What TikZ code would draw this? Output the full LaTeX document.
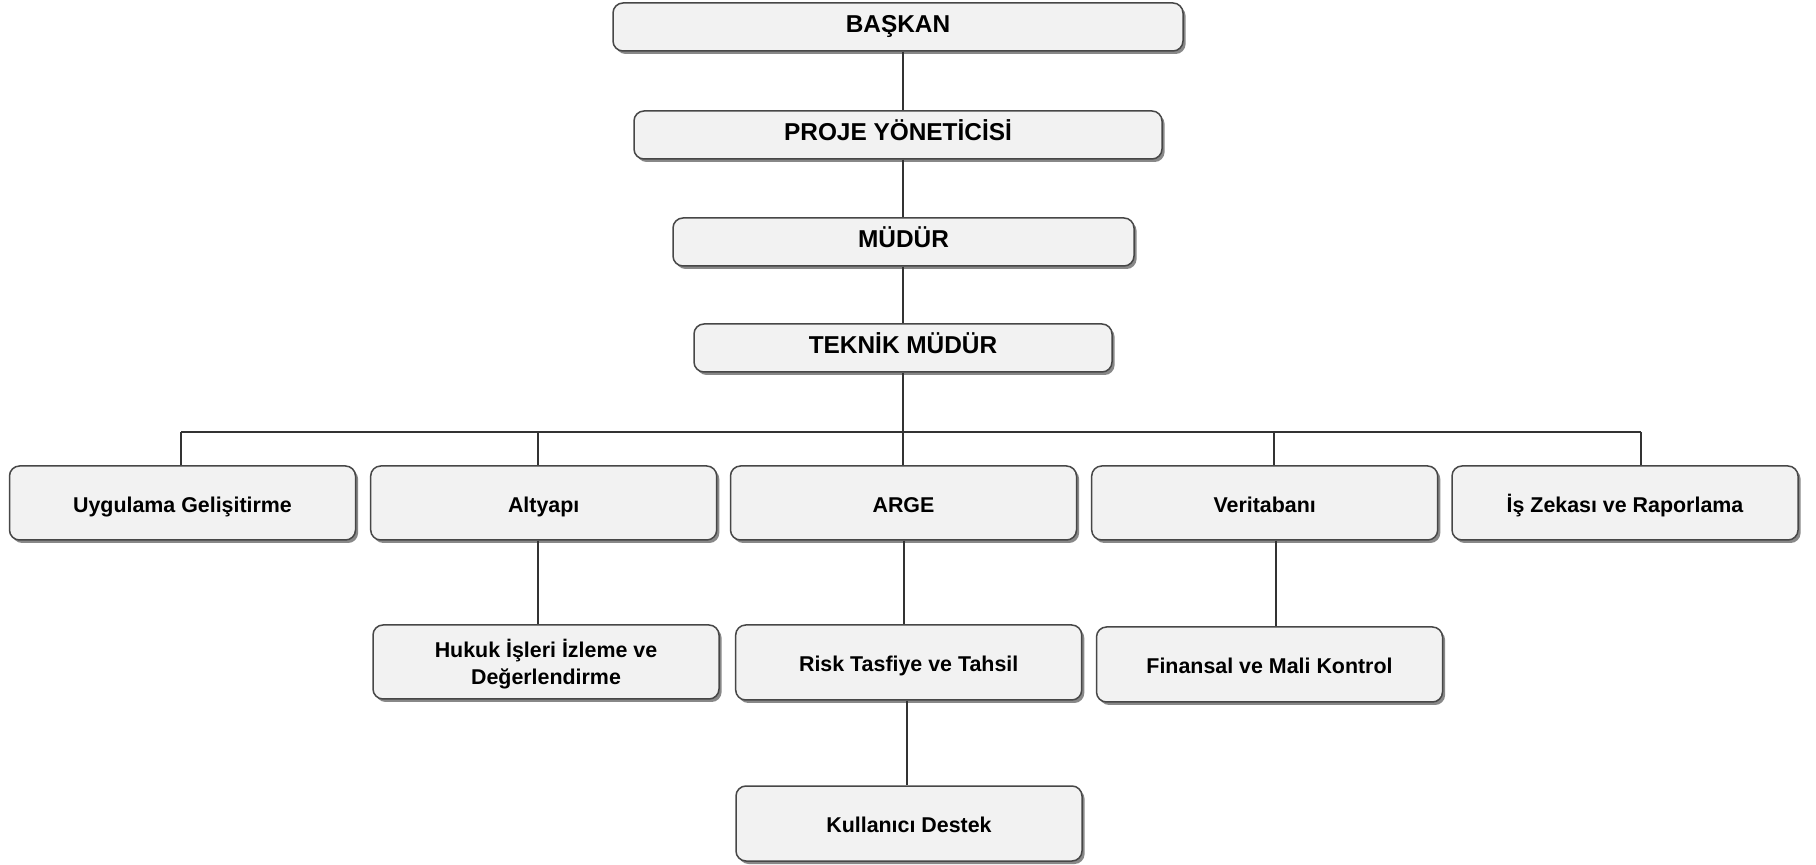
\documentclass[tikz,border=0pt]{standalone}
\usepackage{fontspec}
\setmainfont{Liberation Sans}
\usetikzlibrary{shadows}

\begin{document}
\begin{tikzpicture}[x=0.5pt,y=-0.5pt,
  box/.style={draw=black!72, line width=0.75pt, rounded corners=5pt, fill=black!5,
    drop shadow={shadow xshift=1.3pt, shadow yshift=-1.5pt, fill=black!55, opacity=0.85},
    align=center, inner sep=0pt, text=black},
  headbox/.style={box, minimum height=24pt, text height=0.72em, text depth=0.14em,
    font=\fontsize{12.2}{14}\selectfont\bfseries},
  unitbox/.style={box, minimum width=173pt, minimum height=37pt,
    font=\fontsize{10.7}{13.3}\selectfont\bfseries},
  oneline/.style={text height=0.93em, text depth=0pt},
  link/.style={draw=black!80, line width=0.55pt}]

\useasboundingbox (0,0) rectangle (1816,865);

% management chain
\node[headbox, minimum width=285pt] (baskan) at (898,27)   {BAŞKAN};
\node[headbox, minimum width=264pt] (proje)  at (898,135)  {PROJE YÖNETİCİSİ};
\node[headbox, minimum width=230.5pt] (mudur) at (903.5,242) {MÜDÜR};
\node[headbox, minimum width=209pt] (teknik) at (903,348)  {TEKNİK MÜDÜR};

% departments
\node[unitbox, oneline] (uyg)  at (182.5,503) {Uygulama Gelişitirme};
\node[unitbox, oneline] (alt)  at (543.7,503) {Altyapı};
\node[unitbox, oneline] (arge) at (903.5,503) {ARGE};
\node[unitbox, oneline] (veri) at (1264.7,503) {Veritabanı};
\node[unitbox, oneline] (is)   at (1625,503)  {İş Zekası ve Raporlama};

% sub units
\node[unitbox, text depth=0pt] (hukuk) at (546,662) {Hukuk İşleri İzleme ve\\Değerlendirme};
\node[unitbox, oneline, minimum height=37.5pt] (risk) at (908.7,662.5) {Risk Tasfiye ve Tahsil};
\node[unitbox, oneline, minimum height=37.5pt] (fin)  at (1269.5,664.5) {Finansal ve Mali Kontrol};
\node[unitbox, oneline, minimum height=37.5pt] (kull) at (909,823.5) {Kullanıcı Destek};

% bus line and drop points
\coordinate (bus) at (903,432);
\coordinate (d1) at (181,432);
\coordinate (d2) at (538,432);
\coordinate (d4) at (1274,432);
\coordinate (d5) at (1641,432);
\coordinate (c2) at (538,0);
\coordinate (c3) at (904,0);
\coordinate (c3b) at (907,0);
\coordinate (c4) at (1276,0);

% connectors
\draw[link] (baskan.south -| teknik.north) -- (proje.north -| teknik.north);
\draw[link] (proje.south -| teknik.north) -- (mudur.north -| teknik.north);
\draw[link] (mudur.south -| teknik.north) -- (teknik.north);
\draw[link] (teknik.south) -- (bus);
\draw[link] (d1) -- (d5);
\draw[link] (d1) -- (d1 |- uyg.north);
\draw[link] (d2) -- (d2 |- alt.north);
\draw[link] (bus) -- (bus |- arge.north);
\draw[link] (d4) -- (d4 |- veri.north);
\draw[link] (d5) -- (d5 |- is.north);
\draw[link] (c2 |- alt.south) -- (c2 |- hukuk.north);
\draw[link] (c3 |- arge.south) -- (c3 |- risk.north);
\draw[link] (c3b |- risk.south) -- (c3b |- kull.north);
\draw[link] (c4 |- veri.south) -- (c4 |- fin.north);
\end{tikzpicture}
\end{document}
